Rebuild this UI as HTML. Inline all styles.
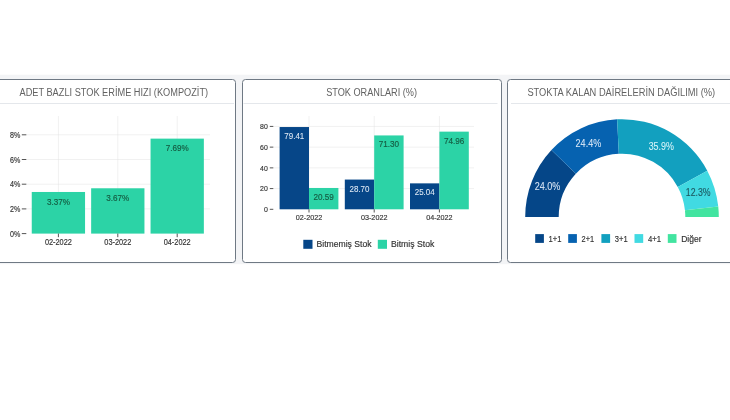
<!DOCTYPE html>
<html><head><meta charset="utf-8"><title>Dashboard</title>
<style>
html,body{margin:0;padding:0;background:#fff;}
body{width:730px;height:420px;overflow:hidden;}
svg{display:block;filter:blur(0.45px);font-family:'Liberation Sans', 'DejaVu Sans', sans-serif;}
</style></head><body>
<svg width="730" height="420" viewBox="0 0 730 420">
<rect x="0" y="74.7" width="730" height="189.5" fill="#f3f4f6"/>
<rect x="-8.5" y="79.5" width="244" height="183" rx="3" fill="#fff" stroke="#6f7984" stroke-width="1"/>
<rect x="242.5" y="79.5" width="259" height="183" rx="3" fill="#fff" stroke="#6f7984" stroke-width="1"/>
<rect x="507.5" y="79.5" width="240" height="183" rx="3" fill="#fff" stroke="#6f7984" stroke-width="1"/>
<line x1="0" y1="103.5" x2="234" y2="103.5" stroke="#e4e7eb" stroke-width="1"/>
<line x1="243.5" y1="103.5" x2="497.5" y2="103.5" stroke="#e4e7eb" stroke-width="1"/>
<line x1="511" y1="103.5" x2="730" y2="103.5" stroke="#e4e7eb" stroke-width="1"/>
<text x="19.5" y="95.5" font-size="10" fill="#626262" stroke="#626262" stroke-width="0" text-anchor="start" textLength="188.6" lengthAdjust="spacingAndGlyphs">ADET BAZLI STOK ERİME HIZI (KOMPOZİT)</text>
<text x="326.2" y="95.5" font-size="10" fill="#626262" stroke="#626262" stroke-width="0" text-anchor="start" textLength="90.8" lengthAdjust="spacingAndGlyphs">STOK ORANLARI (%)</text>
<text x="527.4" y="95.5" font-size="10" fill="#626262" stroke="#626262" stroke-width="0" text-anchor="start" textLength="187.8" lengthAdjust="spacingAndGlyphs">STOKTA KALAN DAİRELERİN DAĞILIMI (%)</text>
<line x1="21.8" y1="233.6" x2="26.3" y2="233.6" stroke="#555" stroke-width="1"/>
<text x="20.3" y="236.79999999999998" font-size="9.2" fill="#333" stroke="#333" stroke-width="0.16" text-anchor="end" textLength="10.3" lengthAdjust="spacingAndGlyphs">0%</text>
<line x1="26.5" y1="208.9" x2="209.5" y2="208.9" stroke="#e2e2e2" stroke-width="1" stroke-dasharray="1 1"/>
<line x1="21.8" y1="208.9" x2="26.3" y2="208.9" stroke="#555" stroke-width="1"/>
<text x="20.3" y="212.1" font-size="9.2" fill="#333" stroke="#333" stroke-width="0.16" text-anchor="end" textLength="10.3" lengthAdjust="spacingAndGlyphs">2%</text>
<line x1="26.5" y1="184.2" x2="209.5" y2="184.2" stroke="#e2e2e2" stroke-width="1" stroke-dasharray="1 1"/>
<line x1="21.8" y1="184.2" x2="26.3" y2="184.2" stroke="#555" stroke-width="1"/>
<text x="20.3" y="187.39999999999998" font-size="9.2" fill="#333" stroke="#333" stroke-width="0.16" text-anchor="end" textLength="10.3" lengthAdjust="spacingAndGlyphs">4%</text>
<line x1="26.5" y1="159.5" x2="209.5" y2="159.5" stroke="#e2e2e2" stroke-width="1" stroke-dasharray="1 1"/>
<line x1="21.8" y1="159.5" x2="26.3" y2="159.5" stroke="#555" stroke-width="1"/>
<text x="20.3" y="162.7" font-size="9.2" fill="#333" stroke="#333" stroke-width="0.16" text-anchor="end" textLength="10.3" lengthAdjust="spacingAndGlyphs">6%</text>
<line x1="26.5" y1="134.8" x2="209.5" y2="134.8" stroke="#e2e2e2" stroke-width="1" stroke-dasharray="1 1"/>
<line x1="21.8" y1="134.8" x2="26.3" y2="134.8" stroke="#555" stroke-width="1"/>
<text x="20.3" y="138.0" font-size="9.2" fill="#333" stroke="#333" stroke-width="0.16" text-anchor="end" textLength="10.3" lengthAdjust="spacingAndGlyphs">8%</text>
<line x1="58.4" y1="116.5" x2="58.4" y2="233.6" stroke="#e2e2e2" stroke-width="1" stroke-dasharray="1 1"/>
<line x1="117.8" y1="116.5" x2="117.8" y2="233.6" stroke="#e2e2e2" stroke-width="1" stroke-dasharray="1 1"/>
<line x1="177.2" y1="116.5" x2="177.2" y2="233.6" stroke="#e2e2e2" stroke-width="1" stroke-dasharray="1 1"/>
<rect x="31.75" y="191.9805" width="53.3" height="41.61949999999999" fill="#2cd3a6"/>
<text x="58.4" y="204.78050000000002" font-size="8.4" fill="#155c42" stroke="#155c42" stroke-width="0.16" text-anchor="middle" textLength="23" lengthAdjust="spacingAndGlyphs">3.37%</text>
<line x1="58.4" y1="233.6" x2="58.4" y2="237.2" stroke="#555" stroke-width="1"/>
<text x="58.4" y="244.7" font-size="8.2" fill="#333" stroke="#333" stroke-width="0.16" text-anchor="middle" textLength="27" lengthAdjust="spacingAndGlyphs">02-2022</text>
<rect x="91.15" y="188.2755" width="53.3" height="45.3245" fill="#2cd3a6"/>
<text x="117.8" y="201.0755" font-size="8.4" fill="#155c42" stroke="#155c42" stroke-width="0.16" text-anchor="middle" textLength="23" lengthAdjust="spacingAndGlyphs">3.67%</text>
<line x1="117.8" y1="233.6" x2="117.8" y2="237.2" stroke="#555" stroke-width="1"/>
<text x="117.8" y="244.7" font-size="8.2" fill="#333" stroke="#333" stroke-width="0.16" text-anchor="middle" textLength="27" lengthAdjust="spacingAndGlyphs">03-2022</text>
<rect x="150.54999999999998" y="138.62849999999997" width="53.3" height="94.97150000000002" fill="#2cd3a6"/>
<text x="177.2" y="151.42849999999999" font-size="8.4" fill="#155c42" stroke="#155c42" stroke-width="0.16" text-anchor="middle" textLength="23" lengthAdjust="spacingAndGlyphs">7.69%</text>
<line x1="177.2" y1="233.6" x2="177.2" y2="237.2" stroke="#555" stroke-width="1"/>
<text x="177.2" y="244.7" font-size="8.2" fill="#333" stroke="#333" stroke-width="0.16" text-anchor="middle" textLength="27" lengthAdjust="spacingAndGlyphs">04-2022</text>
<line x1="269.8" y1="209.3" x2="273.3" y2="209.3" stroke="#555" stroke-width="1"/>
<text x="267.8" y="212.0" font-size="7.6" fill="#333" stroke="#333" stroke-width="0.16" text-anchor="end" textLength="3.9" lengthAdjust="spacingAndGlyphs">0</text>
<line x1="273.5" y1="188.58" x2="474" y2="188.58" stroke="#e2e2e2" stroke-width="1" stroke-dasharray="1 1"/>
<line x1="269.8" y1="188.58" x2="273.3" y2="188.58" stroke="#555" stroke-width="1"/>
<text x="267.8" y="191.28" font-size="7.6" fill="#333" stroke="#333" stroke-width="0.16" text-anchor="end" textLength="7.7" lengthAdjust="spacingAndGlyphs">20</text>
<line x1="273.5" y1="167.86" x2="474" y2="167.86" stroke="#e2e2e2" stroke-width="1" stroke-dasharray="1 1"/>
<line x1="269.8" y1="167.86" x2="273.3" y2="167.86" stroke="#555" stroke-width="1"/>
<text x="267.8" y="170.56" font-size="7.6" fill="#333" stroke="#333" stroke-width="0.16" text-anchor="end" textLength="7.7" lengthAdjust="spacingAndGlyphs">40</text>
<line x1="273.5" y1="147.14000000000001" x2="474" y2="147.14000000000001" stroke="#e2e2e2" stroke-width="1" stroke-dasharray="1 1"/>
<line x1="269.8" y1="147.14000000000001" x2="273.3" y2="147.14000000000001" stroke="#555" stroke-width="1"/>
<text x="267.8" y="149.84" font-size="7.6" fill="#333" stroke="#333" stroke-width="0.16" text-anchor="end" textLength="7.7" lengthAdjust="spacingAndGlyphs">60</text>
<line x1="273.5" y1="126.42000000000002" x2="474" y2="126.42000000000002" stroke="#e2e2e2" stroke-width="1" stroke-dasharray="1 1"/>
<line x1="269.8" y1="126.42000000000002" x2="273.3" y2="126.42000000000002" stroke="#555" stroke-width="1"/>
<text x="267.8" y="129.12" font-size="7.6" fill="#333" stroke="#333" stroke-width="0.16" text-anchor="end" textLength="7.7" lengthAdjust="spacingAndGlyphs">80</text>
<line x1="309" y1="116.5" x2="309" y2="209.3" stroke="#e2e2e2" stroke-width="1" stroke-dasharray="1 1"/>
<line x1="374.2" y1="116.5" x2="374.2" y2="209.3" stroke="#e2e2e2" stroke-width="1" stroke-dasharray="1 1"/>
<line x1="439.4" y1="116.5" x2="439.4" y2="209.3" stroke="#e2e2e2" stroke-width="1" stroke-dasharray="1 1"/>
<rect x="279.6" y="127.03124000000001" width="29.4" height="82.26876" fill="#064688"/>
<rect x="309" y="187.96876" width="29.4" height="21.331240000000008" fill="#2cd3a6"/>
<text x="294.3" y="139.03124000000003" font-size="9.2" fill="#e3ecf6" stroke="#e3ecf6" stroke-width="0.05" text-anchor="middle" textLength="20" lengthAdjust="spacingAndGlyphs">79.41</text>
<text x="323.7" y="199.96876" font-size="9.2" fill="#155c42" stroke="#155c42" stroke-width="0.16" text-anchor="middle" textLength="20.4" lengthAdjust="spacingAndGlyphs">20.59</text>
<line x1="309" y1="209.3" x2="309" y2="212.5" stroke="#555" stroke-width="1"/>
<text x="309" y="219.8" font-size="8.1" fill="#333" stroke="#333" stroke-width="0.16" text-anchor="middle" textLength="26.5" lengthAdjust="spacingAndGlyphs">02-2022</text>
<rect x="344.8" y="179.5668" width="29.4" height="29.73320000000001" fill="#064688"/>
<rect x="374.2" y="135.4332" width="29.4" height="73.86680000000001" fill="#2cd3a6"/>
<text x="359.5" y="191.5668" font-size="9.2" fill="#e3ecf6" stroke="#e3ecf6" stroke-width="0.05" text-anchor="middle" textLength="20" lengthAdjust="spacingAndGlyphs">28.70</text>
<text x="388.9" y="147.4332" font-size="9.2" fill="#155c42" stroke="#155c42" stroke-width="0.16" text-anchor="middle" textLength="20.4" lengthAdjust="spacingAndGlyphs">71.30</text>
<line x1="374.2" y1="209.3" x2="374.2" y2="212.5" stroke="#555" stroke-width="1"/>
<text x="374.2" y="219.8" font-size="8.1" fill="#333" stroke="#333" stroke-width="0.16" text-anchor="middle" textLength="26.5" lengthAdjust="spacingAndGlyphs">03-2022</text>
<rect x="410.0" y="183.35856" width="29.4" height="25.94144" fill="#064688"/>
<rect x="439.4" y="131.64144000000002" width="29.4" height="77.65856" fill="#2cd3a6"/>
<text x="424.7" y="195.35856" font-size="9.2" fill="#e3ecf6" stroke="#e3ecf6" stroke-width="0.05" text-anchor="middle" textLength="20" lengthAdjust="spacingAndGlyphs">25.04</text>
<text x="454.09999999999997" y="143.64144000000002" font-size="9.2" fill="#155c42" stroke="#155c42" stroke-width="0.16" text-anchor="middle" textLength="20.4" lengthAdjust="spacingAndGlyphs">74.96</text>
<line x1="439.4" y1="209.3" x2="439.4" y2="212.5" stroke="#555" stroke-width="1"/>
<text x="439.4" y="219.8" font-size="8.1" fill="#333" stroke="#333" stroke-width="0.16" text-anchor="middle" textLength="26.5" lengthAdjust="spacingAndGlyphs">04-2022</text>
<rect x="303.3" y="239.8" width="9.2" height="9" fill="#064688"/>
<text x="316.5" y="247.3" font-size="8.6" fill="#333" stroke="#333" stroke-width="0.16" text-anchor="start" textLength="55" lengthAdjust="spacingAndGlyphs">Bitmemiş Stok</text>
<rect x="377.8" y="239.8" width="9.2" height="9" fill="#2cd3a6"/>
<text x="391" y="247.3" font-size="8.6" fill="#333" stroke="#333" stroke-width="0.16" text-anchor="start" textLength="43.3" lengthAdjust="spacingAndGlyphs">Bitmiş Stok</text>
<path d="M525.20,217.00 A96.8,97.8 0 0 1 551.44,150.05 L575.86,173.67 A63.3,63.3 0 0 0 558.70,217.00 Z" fill="#054688"/>
<path d="M551.44,150.05 A96.8,97.8 0 0 1 617.14,119.32 L618.82,153.78 A63.3,63.3 0 0 0 575.86,173.67 Z" fill="#0662b0"/>
<path d="M617.14,119.32 A96.8,97.8 0 0 1 707.26,170.69 L677.76,187.03 A63.3,63.3 0 0 0 618.82,153.78 Z" fill="#12a0bf"/>
<path d="M707.26,170.69 A96.8,97.8 0 0 1 718.25,206.57 L684.94,210.25 A63.3,63.3 0 0 0 677.76,187.03 Z" fill="#41dae2"/>
<path d="M718.25,206.57 A96.8,97.8 0 0 1 718.80,217.00 L685.30,217.00 A63.3,63.3 0 0 0 684.94,210.25 Z" fill="#42e4a0"/>
<text x="547.5" y="190.2" font-size="10.3" fill="#dce8f7" stroke="#dce8f7" stroke-width="0.05" text-anchor="middle" textLength="25.6" lengthAdjust="spacingAndGlyphs">24.0%</text>
<text x="588.4" y="146.9" font-size="10.3" fill="#dce8f7" stroke="#dce8f7" stroke-width="0.05" text-anchor="middle" textLength="25.6" lengthAdjust="spacingAndGlyphs">24.4%</text>
<text x="661.3" y="150.1" font-size="10.3" fill="#d9f5fa" stroke="#d9f5fa" stroke-width="0.05" text-anchor="middle" textLength="25.3" lengthAdjust="spacingAndGlyphs">35.9%</text>
<text x="698.2" y="195.8" font-size="10.3" fill="#1d5961" stroke="#1d5961" stroke-width="0.12" text-anchor="middle" textLength="24.8" lengthAdjust="spacingAndGlyphs">12.3%</text>
<rect x="535.2" y="234.1" width="8.7" height="8.8" fill="#054688"/>
<text x="548.6" y="241.5" font-size="8.5" fill="#333" stroke="#333" stroke-width="0.16" text-anchor="start" textLength="12.9" lengthAdjust="spacingAndGlyphs">1+1</text>
<rect x="568.2" y="234.1" width="8.7" height="8.8" fill="#0662b0"/>
<text x="581.6" y="241.5" font-size="8.5" fill="#333" stroke="#333" stroke-width="0.16" text-anchor="start" textLength="12.5" lengthAdjust="spacingAndGlyphs">2+1</text>
<rect x="601.4" y="234.1" width="8.7" height="8.8" fill="#12a0bf"/>
<text x="614.8" y="241.5" font-size="8.5" fill="#333" stroke="#333" stroke-width="0.16" text-anchor="start" textLength="12.8" lengthAdjust="spacingAndGlyphs">3+1</text>
<rect x="634.5" y="234.1" width="8.7" height="8.8" fill="#41dae2"/>
<text x="647.9" y="241.5" font-size="8.5" fill="#333" stroke="#333" stroke-width="0.16" text-anchor="start" textLength="13.1" lengthAdjust="spacingAndGlyphs">4+1</text>
<rect x="667.8" y="234.1" width="8.7" height="8.8" fill="#42e4a0"/>
<text x="681.1999999999999" y="241.5" font-size="8.5" fill="#333" stroke="#333" stroke-width="0.16" text-anchor="start" textLength="20.4" lengthAdjust="spacingAndGlyphs">Diğer</text>
</svg>
</body></html>
